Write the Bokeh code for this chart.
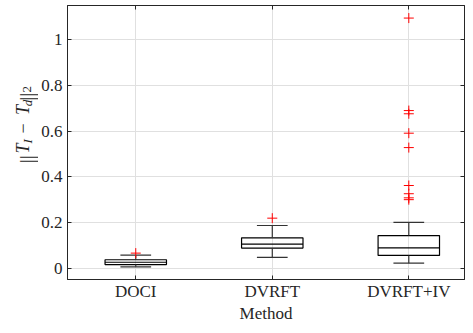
import math
from bokeh.plotting import figure
from bokeh.models import Range1d, FixedTicker, LinearAxis
from bokeh.layouts import row
from bokeh.core.properties import value
from bokeh.embed import file_html
from bokeh.resources import INLINE

# ---- data ----
methods = ["DOCI", "DVRFT", "DVRFT+IV"]
q1 = [0.016, 0.088, 0.056]
median = [0.026, 0.105, 0.089]
q3 = [0.037, 0.133, 0.143]
whisker_lo = [0.006, 0.047, 0.022]
whisker_hi = [0.057, 0.187, 0.201]
outliers = [
    [0.066],
    [0.219],
    [1.095, 0.690, 0.676, 0.591, 0.528, 0.362, 0.326, 0.308, 0.300],
]
yticks = [0, 0.2, 0.4, 0.6, 0.8, 1]
yticklabels = ["0", "0.2", "0.4", "0.6", "0.8", "1"]
xlabel = "Method"

# ---- style ----
FONT = "Liberation Serif"
AX = "#262626"
GRID = "#e0e0e0"
BOXW = 0.45
CAPW = 0.225
H = 325
LABEL_W = 38
MAIN_W = 465 - LABEL_W

xs = list(range(1, len(methods) + 1))

p = figure(width=MAIN_W, height=H,
           x_range=Range1d(0.5, 3.408), y_range=Range1d(-0.0495, 1.150),
           output_backend="svg", toolbar_location=None,
           min_border_left=67 - LABEL_W, min_border_right=1, min_border_top=5,
           min_border_bottom=H - 279)
p.background_fill_color = "white"
p.border_fill_color = "white"
p.outline_line_color = AX
p.outline_line_width = 1

# axes
p.xaxis.ticker = FixedTicker(ticks=xs)
p.xaxis.major_label_overrides = dict(zip(xs, methods))
p.yaxis.ticker = FixedTicker(ticks=yticks)
p.yaxis.major_label_overrides = dict(zip(yticks, yticklabels))
p.xaxis.axis_label = xlabel
for ax in (p.xaxis[0], p.yaxis[0]):
    ax.major_tick_in = 4
    ax.major_tick_out = 0
    ax.minor_tick_line_color = None
    ax.axis_line_color = AX
    ax.major_tick_line_color = AX
    ax.major_label_text_font = FONT
    ax.major_label_text_font_size = "17px"
    ax.major_label_text_color = AX
    ax.axis_label_text_font = FONT
    ax.axis_label_text_font_size = "17px"
    ax.axis_label_text_font_style = "normal"
    ax.axis_label_text_color = AX
p.xaxis.major_label_standoff = 2
p.xaxis.axis_label_standoff = 0
p.yaxis.major_label_standoff = 5

for ticks, loc in ((xs, "above"), (yticks, "right")):
    mirror = LinearAxis(ticker=FixedTicker(ticks=ticks),
                        major_label_text_font_size="1px",
                        major_label_text_color=None,
                        major_label_standoff=0, major_tick_in=4, major_tick_out=0,
                        minor_tick_line_color=None, axis_line_color=AX,
                        major_tick_line_color=AX)
    p.add_layout(mirror, loc)

# grid
p.xgrid.ticker = FixedTicker(ticks=xs)
p.ygrid.ticker = FixedTicker(ticks=yticks)
p.xgrid.grid_line_color = GRID
p.ygrid.grid_line_color = GRID

# boxes
p.vbar(x=xs, width=BOXW, bottom=q1, top=q3, fill_color=None,
       line_color="black", line_width=1.2)
p.segment(x0=[x - BOXW / 2 for x in xs], x1=[x + BOXW / 2 for x in xs],
          y0=median, y1=median, line_color="black", line_width=1.2)
# whiskers
p.segment(x0=xs, x1=xs, y0=q3, y1=whisker_hi, line_color="#333333", line_width=1.2)
p.segment(x0=xs, x1=xs, y0=whisker_lo, y1=q1, line_color="#333333", line_width=1.2)
# caps
for ys in (whisker_hi, whisker_lo):
    p.segment(x0=[x - CAPW / 2 for x in xs], x1=[x + CAPW / 2 for x in xs],
              y0=ys, y1=ys, line_color="#333333", line_width=1.2)
# outliers
ox = [x for x, vals in zip(xs, outliers) for _ in vals]
oy = [v for vals in outliers for v in vals]
p.scatter(ox, oy, marker="cross", size=10, line_color="red", line_width=1)

# ---- y axis label  ||T_I - T_d||_2 in a narrow strip on the left ----
lab = figure(width=LABEL_W, height=H, x_range=Range1d(0, LABEL_W),
             y_range=Range1d(0, H), output_backend="svg", toolbar_location=None,
             x_axis_location=None, y_axis_location=None,
             min_border_left=0, min_border_right=0, min_border_top=0,
             min_border_bottom=0)
lab.outline_line_color = None
lab.xgrid.visible = False
lab.ygrid.visible = False
lab.background_fill_color = "white"
lab.border_fill_color = "white"

pieces = [
    # text, style, size, pixel row of centre, pixel column of baseline
    ("||", "normal", "20px", 182.3, 26),
    ("T", "italic", "18px", 169.5, 22),
    ("I", "italic", "13px", 161.0, 26.5),
    ("\u2212", "normal", "18px", 145.8, 22),
    ("T", "italic", "18px", 124.0, 22),
    ("d", "italic", "13px", 115.5, 26.5),
    ("||", "normal", "20px", 108.3, 26),
    ("2", "normal", "13px", 99.2, 26.5),
]
for txt, style, size, yc, xb in pieces:
    lab.text(x=[xb], y=[H - yc], text=[txt], angle=math.pi / 2,
             text_align="center", text_baseline="alphabetic",
             text_font=value(FONT), text_font_size=value(size),
             text_font_style=value(style), text_color=AX)

layout = row(lab, p)
open("out.html", "w").write(file_html(layout, INLINE))
